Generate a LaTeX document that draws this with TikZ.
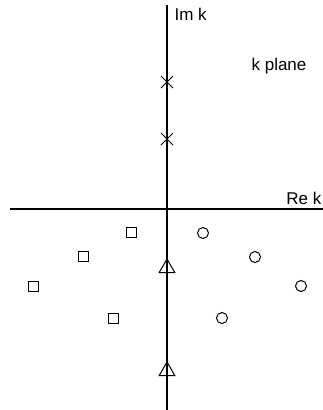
\documentclass[tikz,border=0pt]{standalone}
\usepackage{fontspec}
\setmainfont{Liberation Sans}
\usetikzlibrary{shapes.misc, shapes.geometric}

\begin{document}
\begin{tikzpicture}[x=1pt, y=-1pt, line width=1.3pt, font=\fontsize{17}{19}\selectfont,
    pole/.style={cross out, draw, minimum size=11pt, inner sep=0pt, line width=1pt},
    sqmark/.style={rectangle, draw, minimum size=10pt, inner sep=0pt, line width=1pt},
    circmark/.style={circle, draw, minimum size=11pt, inner sep=0pt, line width=1pt},
    trimark/.style={regular polygon, regular polygon sides=3, draw, minimum size=18pt, inner sep=0pt, line width=1pt}]
    \useasboundingbox (0,0) rectangle (323,410);

    % Axes
    \coordinate (imtop) at (167, 5);
    \coordinate (imbot) at (167, 410);
    \coordinate (releft) at (10, 209);
    \coordinate (reright) at (323, 209);
    \draw (imtop) -- (imbot);
    \draw (releft) -- (reright);

    % Labels
    \node[anchor=west, inner sep=0pt] (imlab) at (174, 14) {Im k};
    \node[anchor=east, inner sep=0pt] (relab) at (322, 198) {Re k};
    \node[inner sep=0pt] (plane) at (279, 66) {k plane};

    % Poles on the imaginary axis
    \node[pole] (p1) at (167, 82) {};
    \node[pole] (p2) at (167, 139) {};

    % Squares
    \node[sqmark] (s1) at (131, 232) {};
    \node[sqmark] (s2) at (83, 256) {};
    \node[sqmark] (s3) at (33, 286) {};
    \node[sqmark] (s4) at (113, 318) {};

    % Circles
    \node[circmark] (c1) at (203, 233) {};
    \node[circmark] (c2) at (255, 257) {};
    \node[circmark] (c3) at (301, 286) {};
    \node[circmark] (c4) at (222, 318) {};

    % Triangles
    \node[trimark] (t1) at (167, 268) {};
    \node[trimark] (t2) at (167, 371) {};
\end{tikzpicture}
\end{document}
